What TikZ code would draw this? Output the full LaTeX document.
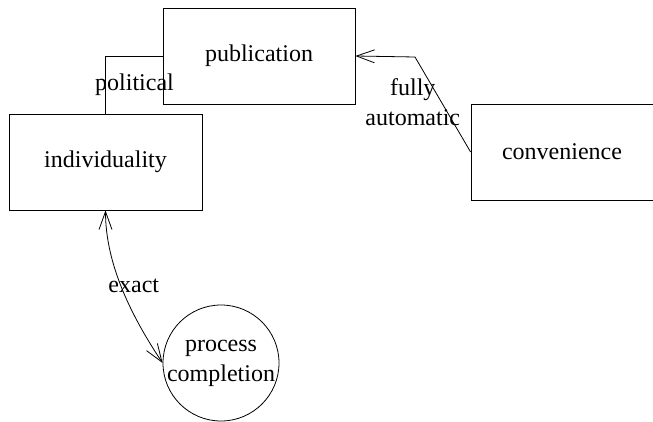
\documentclass[tikz,border=0pt]{standalone}
\usepackage{fontspec}
\setmainfont{Liberation Serif}
\usetikzlibrary{arrows.meta}

\begin{document}
\begin{tikzpicture}[
  x=1pt, y=1pt,
  font=\fontsize{24}{30}\selectfont,
  line width=0.8pt,
  box/.style  ={draw, minimum width=192pt, minimum height=96pt, inner sep=0pt},
  round/.style={draw, circle, minimum size=116pt, inner sep=-2pt, align=center},
  lbl/.style  ={align=center, inner sep=0pt},
  arr/.style  ={-{Straight Barb[length=18pt, width=13pt]}},
  dblarr/.style={{Straight Barb[length=18pt, width=13pt]}-{Straight Barb[length=18pt, width=13pt]}},
]
\useasboundingbox (0,0) rectangle (653,421);

% ============ Nodes ============
\node[box] (pub)  at (259,365)   {publication};
\node[box, minimum width=193pt] (ind) at (105.5,259) {individuality};
\node[box, minimum width=182pt] (conv) at (562,269) {convenience};
\node[round] (pc) at (221,58)    {process\\completion};

\coordinate (bend) at (415,364);

% ============ Connectors ============
\draw (pub.west) -| node[lbl, pos=0.75, xshift=29pt]{political} (ind.north);
\draw[arr] (conv.west) -- node[lbl, pos=0.5, xshift=-30pt, yshift=2pt]{fully\\automatic} (bend) -- (pub.east);
\draw[dblarr] (ind.south) .. controls +(0,-55) and +(-30,45) .. node[lbl, pos=0.5, xshift=11pt, yshift=5pt]{exact} (pc.west);

\end{tikzpicture}
\end{document}
